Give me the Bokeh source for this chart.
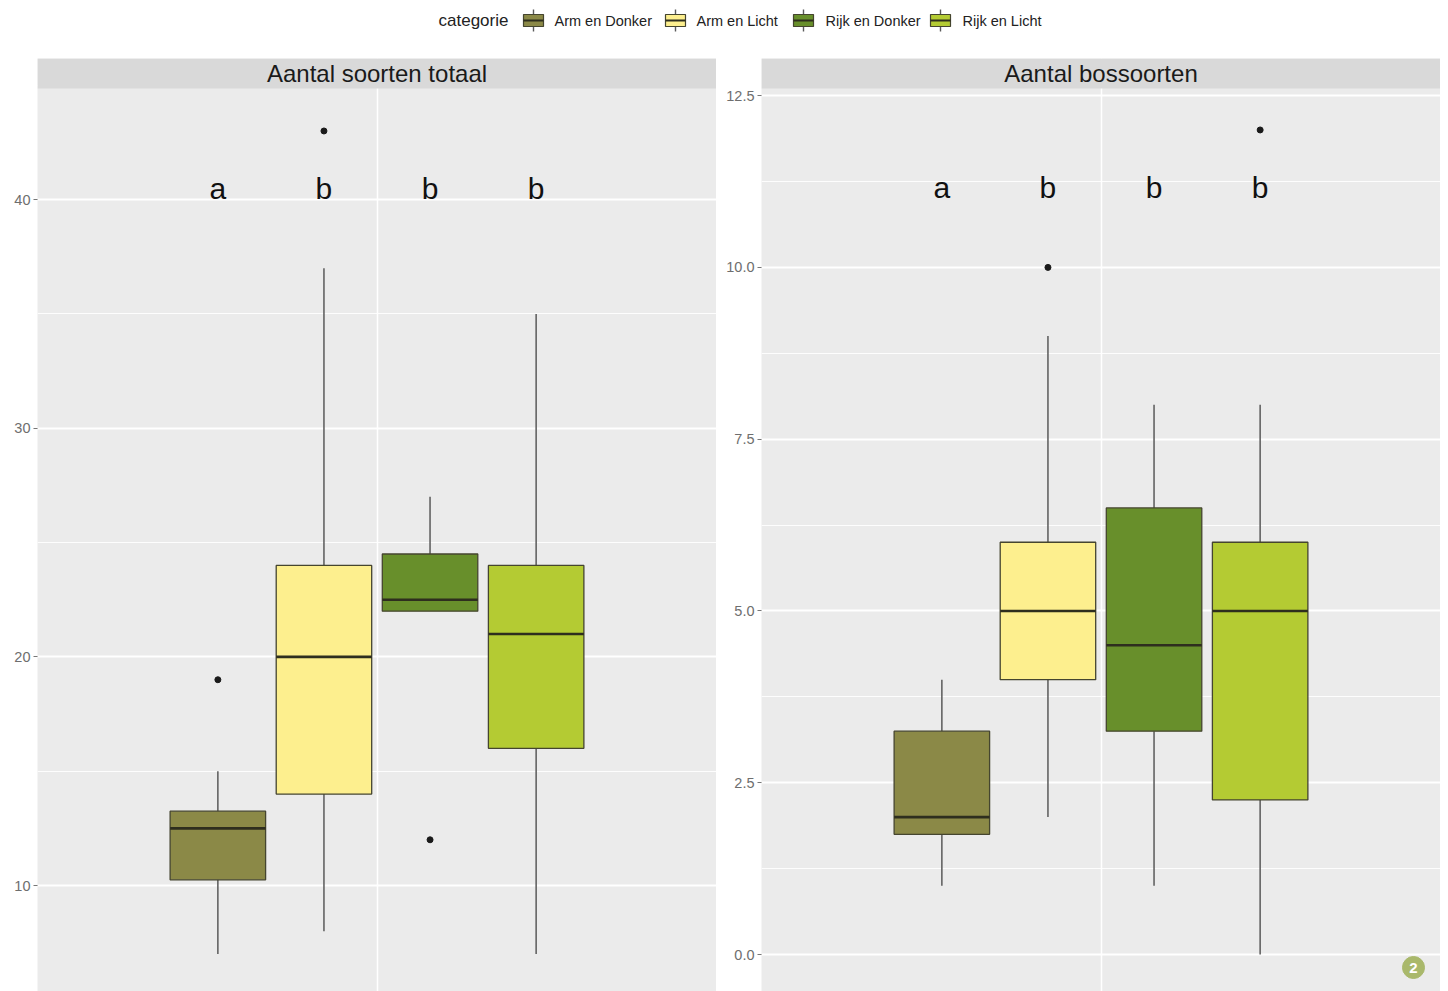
from bokeh.plotting import figure
from bokeh.layouts import column, row
from bokeh.models import Range1d, FixedTicker
from bokeh.embed import file_html
from bokeh.resources import INLINE
from bokeh.core.properties import value

# ---------------- data ----------------
categories = ["Arm en Donker", "Arm en Licht", "Rijk en Donker", "Rijk en Licht"]
colors = ["#8b8947", "#fdef8e", "#688f2b", "#b4cb33"]
letters = ["a", "b", "b", "b"]

# Aantal soorten totaal
tot_low = [7, 8, 22, 7]
tot_q1 = [10.25, 14, 22, 16]
tot_med = [12.5, 20, 22.5, 21]
tot_q3 = [13.25, 24, 24.5, 24]
tot_high = [15, 37, 27, 35]
tot_out_cat = ["Arm en Donker", "Arm en Licht", "Rijk en Donker"]
tot_out_val = [19, 43, 12]
tot_letter_y = 40
tot_ticks = [10, 20, 30, 40]
tot_tick_labels = ["10", "20", "30", "40"]
tot_minor = [15, 25, 35, 45]

# Aantal bossoorten
bos_low = [1, 2, 1, 0]
bos_q1 = [1.75, 4, 3.25, 2.25]
bos_med = [2, 5, 4.5, 5]
bos_q3 = [3.25, 6, 6.5, 6]
bos_high = [4, 9, 8, 8]
bos_out_cat = ["Arm en Licht", "Rijk en Licht"]
bos_out_val = [10, 12]
bos_letter_y = 11
bos_ticks = [0, 2.5, 5, 7.5, 10, 12.5]
bos_tick_labels = ["0.0", "2.5", "5.0", "7.5", "10.0", "12.5"]
bos_minor = [1.25, 3.75, 6.25, 8.75, 11.25]

FONT = value("Liberation Sans")
FRAME_W = 679
FRAME_H = 933
STRIP_H = 30
X0, X1 = -0.7, 5.7
BOX_W = 0.9


def panel(title, low, q1, med, q3, high, out_cat, out_val, letter_y,
          ticks, tick_labels, minor, yr, border_left, badge=False):
    p = figure(width=border_left + FRAME_W, height=8 + FRAME_H,
               x_range=Range1d(X0, X1), y_range=Range1d(*yr),
               output_backend="svg", toolbar_location=None,
               x_axis_location=None,
               min_border_left=border_left, min_border_right=0,
               min_border_top=8, min_border_bottom=0)
    p.background_fill_color = "#ebebeb"
    p.border_fill_color = "white"
    p.outline_line_color = None

    ax = p.yaxis[0]
    ax.ticker = FixedTicker(ticks=ticks)
    ax.major_label_overrides = {t: l for t, l in zip(ticks, tick_labels)}
    ax.axis_line_color = None
    ax.minor_tick_line_color = None
    ax.major_tick_in = 0
    ax.major_tick_out = 4
    ax.major_tick_line_color = "#777777"
    ax.major_label_standoff = 3
    ax.major_label_text_font = "Liberation Sans"
    ax.major_label_text_font_size = "14.5px"
    ax.major_label_text_color = "#6e6e6e"

    p.ygrid.ticker = FixedTicker(ticks=ticks, minor_ticks=minor)
    p.ygrid.grid_line_color = "white"
    p.ygrid.grid_line_width = 1.8
    p.ygrid.minor_grid_line_color = "white"
    p.ygrid.minor_grid_line_width = 0.9
    p.xgrid.ticker = FixedTicker(ticks=[(X0 + X1) / 2])
    p.xgrid.grid_line_color = "white"
    p.xgrid.grid_line_width = 1.5

    pos = [categories.index(c) + 1 for c in categories]
    # whiskers
    p.segment(x0=pos, y0=q3, x1=pos, y1=high, line_color="#636363", line_width=1.6)
    p.segment(x0=pos, y0=low, x1=pos, y1=q1, line_color="#636363", line_width=1.6)
    # boxes
    p.vbar(x=pos, width=BOX_W, bottom=q1, top=q3, fill_color=colors,
           line_color="#45452f", line_width=1.3)
    # medians
    p.segment(x0=[x - BOX_W / 2 for x in pos], y0=med,
              x1=[x + BOX_W / 2 for x in pos], y1=med,
              line_color="#2e2e1e", line_width=2.6)
    # outliers
    opos = [categories.index(c) + 1 for c in out_cat]
    p.scatter(x=opos, y=out_val, size=6, color="#1a1a1a")
    # letters
    p.text(x=pos, y=[letter_y] * len(pos), text=letters, text_font=FONT,
           text_font_size="30px", text_align="center",
           text_baseline="alphabetic", y_offset=-11, text_color="#111111")

    # strip
    ytop = yr[1]
    ybot = yr[1] - (yr[1] - yr[0]) * STRIP_H / FRAME_H
    p.quad(left=[X0], right=[X1], top=[ytop], bottom=[ybot],
           fill_color="#d9d9d9", line_color=None)
    p.text(x=[(X0 + X1) / 2], y=[(ytop + ybot) / 2], text=[title],
           text_font=FONT, text_font_size="24px", text_align="center",
           text_baseline="middle", text_color="#1a1a1a")

    if badge:
        bx = X0 + (1413 - 761) / FRAME_W * (X1 - X0)
        by = yr[1] - (967 - 58) / FRAME_H * (yr[1] - yr[0])
        p.scatter(x=[bx], y=[by], size=22, color="#a9b86b")
        p.text(x=[bx], y=[by], text=["2"], text_font=FONT,
               text_font_size="15px", text_font_style="bold",
               text_align="center", text_baseline="middle",
               text_color="white")
    return p


left = panel("Aantal soorten totaal", tot_low, tot_q1, tot_med, tot_q3, tot_high,
             tot_out_cat, tot_out_val, tot_letter_y, tot_ticks, tot_tick_labels,
             tot_minor, (5.365, 46.17), 37)
right = panel("Aantal bossoorten", bos_low, bos_q1, bos_med, bos_q3, bos_high,
              bos_out_cat, bos_out_val, bos_letter_y, bos_ticks, bos_tick_labels,
              bos_minor, (-0.538, 13.04), 45, badge=True)

# ---------------- legend ----------------
leg = figure(width=1440, height=50, x_range=Range1d(0, 1440), y_range=Range1d(50, 0),
             output_backend="svg", toolbar_location=None,
             x_axis_location=None, y_axis_location=None,
             min_border_left=0, min_border_right=0, min_border_top=0, min_border_bottom=0)
leg.grid.visible = False
leg.outline_line_color = None
leg.background_fill_color = "white"
leg.border_fill_color = "white"

key_x = [533, 675, 803, 940]
label_x = [554, 696, 825, 962]
leg.text(x=[438], y=[20], text=["categorie"], text_font=FONT, text_font_size="17px",
         text_align="left", text_baseline="middle", text_color="#222222")
leg.segment(x0=key_x, y0=[9] * 4, x1=key_x, y1=[14] * 4, line_color="#5a5a5a", line_width=1.4)
leg.segment(x0=key_x, y0=[26] * 4, x1=key_x, y1=[31] * 4, line_color="#5a5a5a", line_width=1.4)
leg.quad(left=[k - 10 for k in key_x], right=[k + 10 for k in key_x],
         top=[14] * 4, bottom=[26] * 4, fill_color=colors,
         line_color="#45452f", line_width=1.2)
leg.segment(x0=[k - 10 for k in key_x], y0=[20] * 4, x1=[k + 10 for k in key_x], y1=[20] * 4,
            line_color="#2e2e1e", line_width=2)
leg.text(x=label_x, y=[20] * 4, text=categories, text_font=FONT, text_font_size="14.5px",
         text_align="left", text_baseline="middle", text_color="#222222")

layout = column(leg, row(left, right, spacing=0), spacing=0)
open("out.html", "w").write(file_html(layout, INLINE))
